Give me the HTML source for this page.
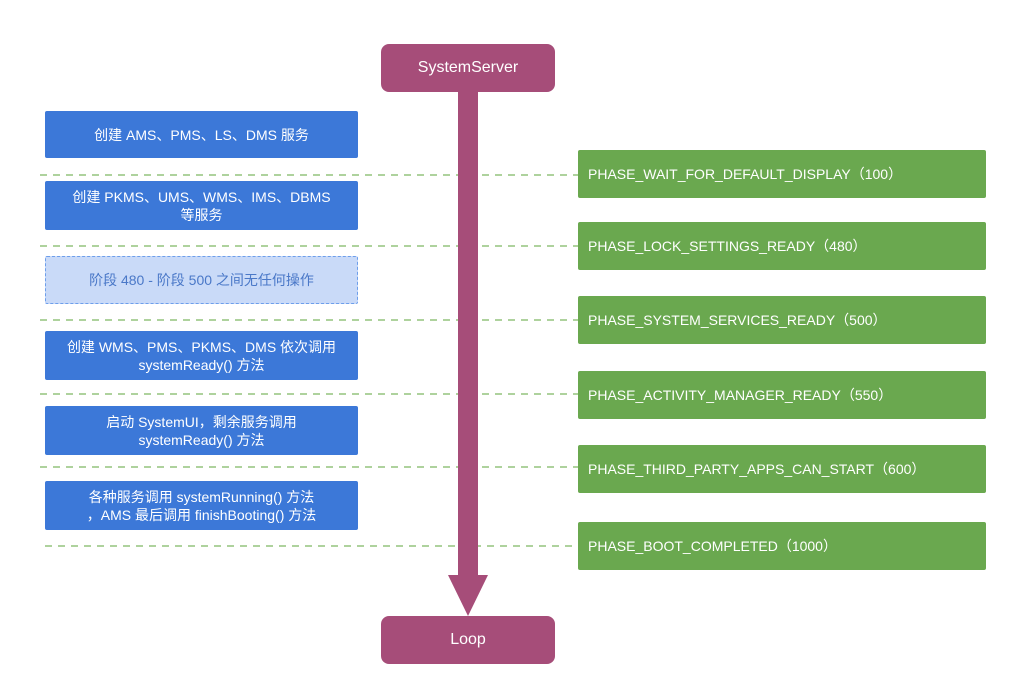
<!DOCTYPE html>
<html><head><meta charset="utf-8"><style>
body{margin:0;width:1019px;height:692px;background:#fff;position:relative;overflow:hidden;font-family:"Liberation Sans","Noto Sans CJK SC",sans-serif;}
.b{position:absolute;left:45px;width:313px;background:#3c78d8;color:#fff;font-size:14px;line-height:18px;display:flex;align-items:center;justify-content:center;text-align:center;border-radius:2px;}
.g{position:absolute;left:578px;width:408px;height:48px;background:#6aa84f;color:#fff;font-size:14px;display:flex;align-items:center;padding-left:10px;box-sizing:border-box;border-radius:2px;}
.m{position:absolute;left:381px;width:174px;height:48px;background:#a64d79;color:#fff;font-size:16px;display:flex;align-items:center;justify-content:center;border-radius:8px;}
</style></head><body>
<svg width="1019" height="692" style="position:absolute;left:0;top:0">
<g stroke="#93c47d" stroke-width="1.5" stroke-dasharray="7,6">
<line x1="40" y1="175" x2="578" y2="175"/>
<line x1="40" y1="246" x2="578" y2="246"/>
<line x1="40" y1="320" x2="578" y2="320"/>
<line x1="40" y1="394" x2="578" y2="394"/>
<line x1="40" y1="467" x2="578" y2="467"/>
<line x1="45" y1="546" x2="578" y2="546"/>
</g>
<rect x="458" y="90" width="20" height="488" fill="#a64d79"/>
<polygon points="448,575 488,575 468,616" fill="#a64d79"/>
</svg>
<div class="m" style="top:44px">SystemServer</div>
<div class="m" style="top:616px">Loop</div>
<div class="b" style="top:111px;height:47px">创建 AMS、PMS、LS、DMS 服务</div>
<div class="b" style="top:181px;height:49px">创建 PKMS、UMS、WMS、IMS、DBMS<br>等服务</div>
<div class="b" style="top:256px;height:48px;background:#c9daf8;color:#4a78c8;border:1.5px dashed #6d9eeb;box-sizing:border-box">阶段 480 - 阶段 500 之间无任何操作</div>
<div class="b" style="top:331px;height:49px">创建 WMS、PMS、PKMS、DMS 依次调用<br>systemReady() 方法</div>
<div class="b" style="top:406px;height:49px">启动 SystemUI，剩余服务调用<br>systemReady() 方法</div>
<div class="b" style="top:481px;height:49px">各种服务调用 systemRunning() 方法<br>，AMS 最后调用 finishBooting() 方法</div>
<div class="g" style="top:150px">PHASE_WAIT_FOR_DEFAULT_DISPLAY（100）</div>
<div class="g" style="top:222px">PHASE_LOCK_SETTINGS_READY（480）</div>
<div class="g" style="top:296px">PHASE_SYSTEM_SERVICES_READY（500）</div>
<div class="g" style="top:371px">PHASE_ACTIVITY_MANAGER_READY（550）</div>
<div class="g" style="top:445px">PHASE_THIRD_PARTY_APPS_CAN_START（600）</div>
<div class="g" style="top:522px">PHASE_BOOT_COMPLETED（1000）</div>
</body></html>
